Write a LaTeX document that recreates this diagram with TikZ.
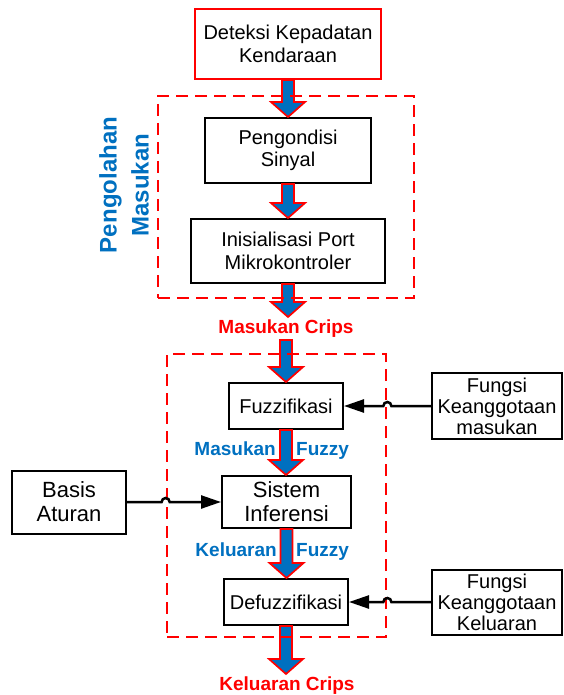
\documentclass[tikz,border=0pt]{standalone}
\usepackage{fontspec}
\setmainfont{Liberation Sans}
\usepackage{tikz}
\usetikzlibrary{arrows.meta}
\usetikzlibrary{calc}
\definecolor{biru}{RGB}{0,112,192}

% panah blok (biru, garis merah) dari #1 ke #2
\newcommand{\panahblok}[2]{%
  \path[panah] let \p1=(#1), \p2=(#2) in
    (\x1-6pt,\y1) -- (\x1-6pt,\y2+15pt) -- (\x1-17pt,\y2+15pt) -- (\x1,\y2)
    -- (\x1+17pt,\y2+15pt) -- (\x1+6pt,\y2+15pt) -- (\x1+6pt,\y1) -- cycle;}

\begin{document}
\begin{tikzpicture}[x=1pt,y=-1pt]
\tikzstyle{kotak} = [draw, line width=2pt, align=center, inner sep=0pt, font=\fontsize{20}{22.5}\selectfont]
\tikzstyle{putus} = [draw=red, line width=2.7pt, dash pattern=on 12pt off 7pt]
\tikzstyle{panah} = [draw=red, fill=biru, line width=1.7pt]
\tikzstyle{hubung} = [line width=2.5pt, -{Triangle[length=20pt,width=13pt]}]
\tikzstyle{merah} = [text=red, inner sep=0pt, font=\bfseries\fontsize{19}{22}\selectfont]
\tikzstyle{labelbiru} = [text=biru, inner sep=0pt, font=\bfseries\fontsize{19}{22}\selectfont]
\useasboundingbox (0,0) rectangle (563,695);

% pengolahan masukan
\node[kotak, draw=red, minimum width=186pt, minimum height=70pt](deteksi) at (288,44) {Deteksi Kepadatan\\Kendaraan};
\node[kotak, minimum width=166pt, minimum height=65pt](sinyal) at (288,150.5) {Pengondisi\\Sinyal};
\node[kotak, minimum width=194pt, minimum height=64pt](port) at (288,251) {Inisialisasi Port\\Mikrokontroler};
\node[labelbiru, rotate=90, align=center, font=\bfseries\fontsize{24}{32}\selectfont](judul) at (124,185) {Pengolahan\\Masukan};
\node[merah, anchor=base](crips1) at (286,333) {Masukan Crips};
\coordinate (c1) at (288,317);
\coordinate (c2) at (286,340);

% fuzzy
\node[kotak, minimum width=114pt, minimum height=46pt](fuzzi) at (286,406) {Fuzzifikasi};
\node[kotak, minimum width=130pt, minimum height=66pt, font=\fontsize{20}{21}\selectfont](fkmasuk) at (497,406) {Fungsi\\Keanggotaan\\masukan};
\node[labelbiru, anchor=base east](mf1) at (276,455) {Masukan};
\node[labelbiru, anchor=base west](mf2) at (296,455) {Fuzzy};
\node[kotak, minimum width=129pt, minimum height=52pt, font=\fontsize{22}{24}\selectfont](inferensi) at (286.5,502) {Sistem\\Inferensi};
\node[kotak, minimum width=114pt, minimum height=63pt, font=\fontsize{22}{24}\selectfont](basis) at (69,502) {Basis\\Aturan};
\node[labelbiru, anchor=base east](kf1) at (277,556) {Keluaran};
\node[labelbiru, anchor=base west](kf2) at (296,556) {Fuzzy};
\node[kotak, minimum width=124pt, minimum height=46pt](defuzzi) at (286,602) {Defuzzifikasi};
\node[kotak, minimum width=130pt, minimum height=65pt, font=\fontsize{20}{21}\selectfont](fkkeluar) at (497,602) {Fungsi\\Keanggotaan\\Keluaran};
\node[merah, anchor=base](crips2) at (287,690) {Keluaran Crips};
\coordinate (c3) at (287,674);

\panahblok{deteksi.south}{sinyal.north}
\panahblok{sinyal.south}{port.north}
\panahblok{port.south}{c1}
\panahblok{c2}{fuzzi.north}
\panahblok{fuzzi.south}{inferensi.north}
\panahblok{inferensi.south}{defuzzi.north}
\panahblok{defuzzi.south}{c3}

% kotak putus-putus
\node[putus, minimum width=256pt, minimum height=202pt](olah1) at (286,197) {};
\node[putus, minimum width=219pt, minimum height=283pt](olah2) at (276.5,495.5) {};

\draw[hubung] (basis.east) -- ($(olah2.west |- basis.east)+(-4,0)$) arc[start angle=180, end angle=0, radius=4pt] -- (inferensi.west);
\draw[hubung] (fkmasuk.west) -- ($(olah2.east |- fkmasuk.west)+(4,0)$) arc[start angle=0, end angle=180, radius=4pt] -- (fuzzi.east);
\draw[hubung] (fkkeluar.west) -- ($(olah2.east |- fkkeluar.west)+(4,0)$) arc[start angle=0, end angle=180, radius=4pt] -- (defuzzi.east);
\end{tikzpicture}
\end{document}
